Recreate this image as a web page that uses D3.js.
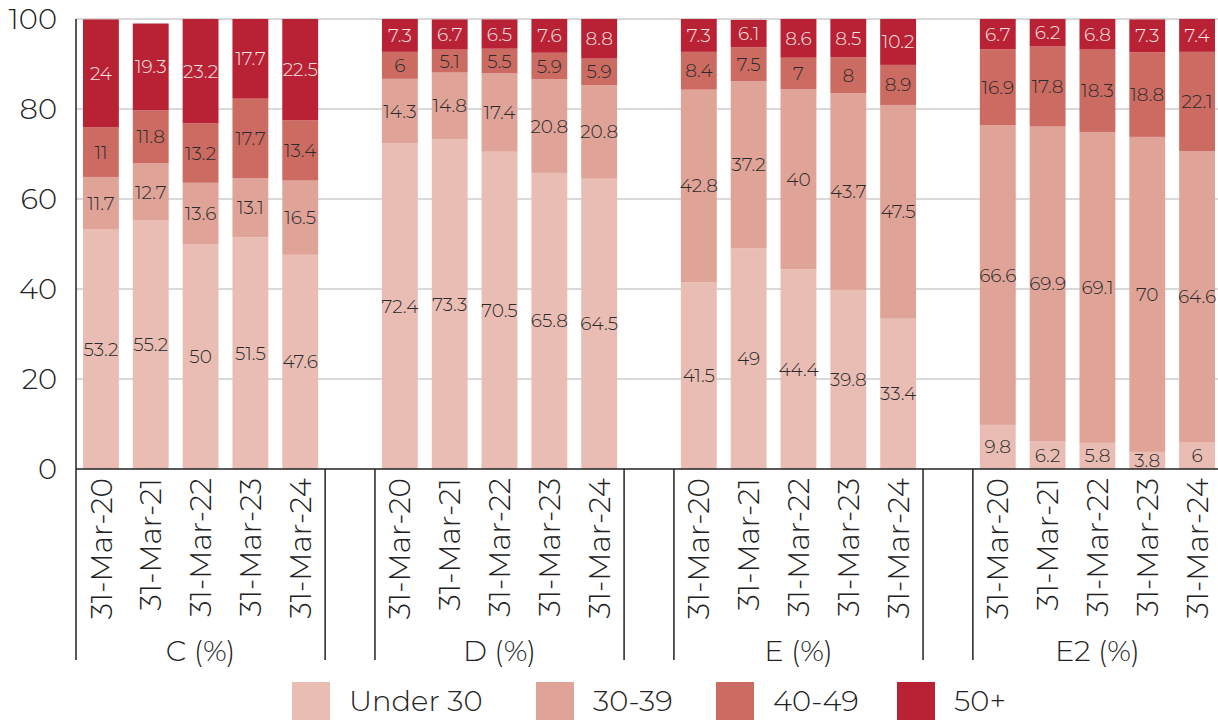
<!DOCTYPE html>
<html>
<head>
<meta charset="utf-8">
<script src="https://cdn.jsdelivr.net/npm/d3@7"></script>
<style>
  body { margin: 0; background: #fff; }
  svg { display: block; font-family: "Montserrat", "Noto Sans", Lato, sans-serif; font-weight: 300; }
</style>
</head>
<body>
<svg id="chart" width="1218" height="720"></svg>
<script>
// Data
const groups = ['C (%)', 'D (%)', 'E (%)', 'E2 (%)'];
const dates = ['31-Mar-20', '31-Mar-21', '31-Mar-22', '31-Mar-23', '31-Mar-24'];
const series = ['Under 30', '30-39', '40-49', '50+'];
const colors = ['#e9bdb4', '#e0a398', '#cc6b62', '#b92234'];
const yTicks = [0, 20, 40, 60, 80, 100];

// one list per age band, in order C, D, E, E2 (5 dates each)
const under30 = [53.2, 55.2, 50, 51.5, 47.6,  72.4, 73.3, 70.5, 65.8, 64.5,  41.5, 49, 44.4, 39.8, 33.4,  9.8, 6.2, 5.8, 3.8, 6];
const age3039 = [11.7, 12.7, 13.6, 13.1, 16.5,  14.3, 14.8, 17.4, 20.8, 20.8,  42.8, 37.2, 40, 43.7, 47.5,  66.6, 69.9, 69.1, 70, 64.6];
const age4049 = [11, 11.8, 13.2, 17.7, 13.4,  6, 5.1, 5.5, 5.9, 5.9,  8.4, 7.5, 7, 8, 8.9,  16.9, 17.8, 18.3, 18.8, 22.1];
const age50 = [24, 19.3, 23.2, 17.7, 22.5,  7.3, 6.7, 6.5, 7.6, 8.8,  7.3, 6.1, 8.6, 8.5, 10.2,  6.7, 6.2, 6.8, 7.3, 7.4];
const values = [under30, age3039, age4049, age50];

const svg = d3.select('#chart');
const margin = {left: 76, top: 19, bottom: 469, right: 1222};

// slots: 5 bars per group, one empty slot between groups
const slots = [];
groups.forEach((g, gi) => {
    dates.forEach((d, di) => slots.push({key: g + '|' + d, group: gi, date: d, idx: gi * 5 + di}));
    if (gi < groups.length - 1) slots.push({key: 'gap' + gi, gap: true});
});
const bars = slots.filter(s => !s.gap);

const x = d3.scaleBand()
    .domain(slots.map(s => s.key))
    .range([margin.left, margin.right])
    .paddingInner(0.28)
    .paddingOuter(0.14);
const y = d3.scaleLinear().domain([0, 100]).range([margin.bottom, margin.top]);

// gridlines
svg.append('g')
    .selectAll('line')
    .data(yTicks.filter(t => t > 0))
    .join('line')
    .attr('x1', margin.left).attr('x2', 1218)
    .attr('y1', d => y(d)).attr('y2', d => y(d))
    .attr('stroke', '#b3b3b3').attr('stroke-width', 1.2);

// stacked segments
bars.forEach(b => {
    let base = 0;
    values.forEach((vals, si) => {
        const v = vals[b.idx];
        b['s' + si] = [base, Math.min(100, base + v), v];
        base += v;
    });
});

const barG = svg.append('g');
series.forEach((s, si) => {
    barG.selectAll('.seg' + si)
        .data(bars)
        .join('rect')
        .attr('class', 'seg' + si)
        .attr('x', d => x(d.key))
        .attr('width', x.bandwidth())
        .attr('y', d => y(d['s' + si][1]))
        .attr('height', d => y(d['s' + si][0]) - y(d['s' + si][1]))
        .attr('fill', colors[si]);
});

// value labels
series.forEach((s, si) => {
    svg.append('g').selectAll('text')
        .data(bars)
        .join('text')
        .attr('x', d => x(d.key) + x.bandwidth() / 2)
        .attr('y', d => y((d['s' + si][0] + d['s' + si][1]) / 2))
        .attr('dy', '0.35em')
        .attr('text-anchor', 'middle')
        .attr('font-size', 18.5)
        .attr('fill', si === 3 ? '#f6e3e3' : '#2b2b2b')
        .text(d => d['s' + si][2]);
});

// y axis
svg.append('line')
    .attr('x1', margin.left).attr('x2', margin.left)
    .attr('y1', margin.top).attr('y2', 660)
    .attr('stroke', '#222').attr('stroke-width', 1.5);
svg.append('g').selectAll('text')
    .data(yTicks)
    .join('text')
    .attr('x', 57)
    .attr('y', d => y(d))
    .attr('dy', '0.35em')
    .attr('text-anchor', 'end')
    .attr('font-size', 29)
    .attr('fill', '#222')
    .text(d => d);

// x axis line
svg.append('line')
    .attr('x1', margin.left).attr('x2', 1218)
    .attr('y1', margin.bottom).attr('y2', margin.bottom)
    .attr('stroke', '#222').attr('stroke-width', 1.5);

// group separators
const step = x.step();
const sepX = [];
groups.forEach((g, gi) => {
    const first = x(g + '|' + dates[0]) - (step - x.bandwidth()) / 2;
    const last = x(g + '|' + dates[4]) + x.bandwidth() + (step - x.bandwidth()) / 2;
    if (gi > 0) sepX.push(first);
    if (gi < groups.length - 1) sepX.push(last);
});
svg.append('g').selectAll('line')
    .data(sepX)
    .join('line')
    .attr('x1', d => d).attr('x2', d => d)
    .attr('y1', margin.bottom).attr('y2', 660)
    .attr('stroke', '#222').attr('stroke-width', 1.5);

// date labels
svg.append('g').selectAll('text')
    .data(bars)
    .join('text')
    .attr('transform', d => `translate(${x(d.key) + x.bandwidth() / 2}, 478) rotate(-90)`)
    .attr('dy', '0.36em')
    .attr('text-anchor', 'end')
    .attr('font-size', 29.5)
    .attr('fill', '#222')
    .text(d => d.date);

// group labels
svg.append('g').selectAll('text')
    .data(groups)
    .join('text')
    .attr('x', g => (x(g + '|' + dates[0]) + x(g + '|' + dates[4]) + x.bandwidth()) / 2)
    .attr('y', 651)
    .attr('dy', '0.35em')
    .attr('text-anchor', 'middle')
    .attr('font-size', 29)
    .attr('fill', '#222')
    .text(g => g);

// legend
const legendX = [292, 536, 716, 897];
const legend = svg.append('g').selectAll('g')
    .data(series)
    .join('g')
    .attr('transform', (d, i) => `translate(${legendX[i]}, 682)`);
legend.append('rect')
    .attr('width', 38).attr('height', 38)
    .attr('fill', (d, i) => colors[i]);
legend.append('text')
    .attr('x', 57).attr('y', 19)
    .attr('dy', '0.35em')
    .attr('font-size', 29)
    .attr('fill', '#222')
    .text(d => d);
</script>
</body>
</html>
